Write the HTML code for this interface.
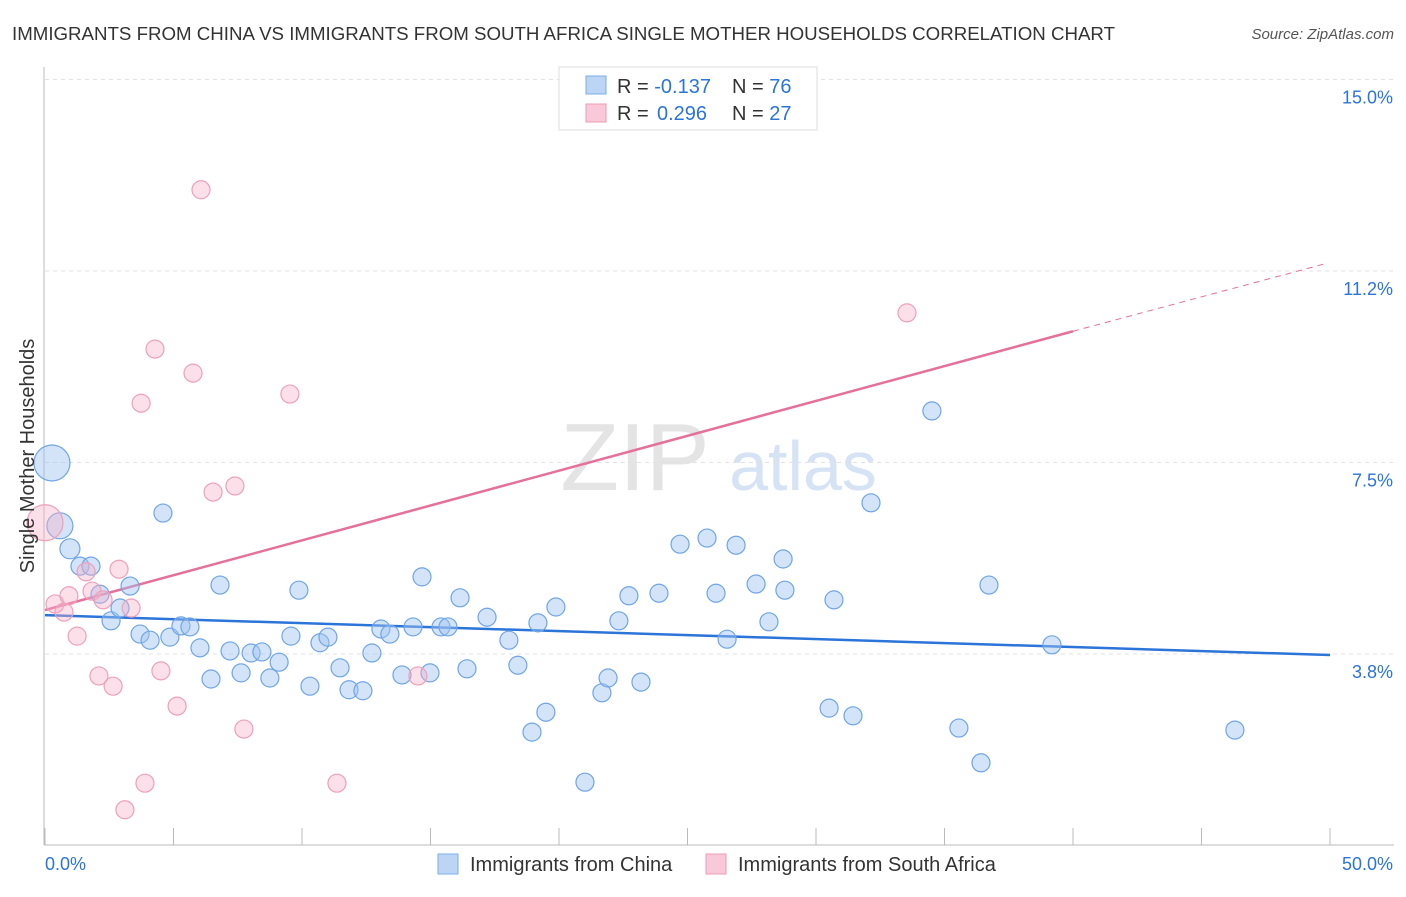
<!DOCTYPE html>
<html><head><meta charset="utf-8">
<style>
body{margin:0;background:#fff;font-family:"Liberation Sans",sans-serif;}
svg text{font-family:"Liberation Sans",sans-serif;}
</style></head>
<body>
<svg id="chart" width="1406" height="892" xmlns="http://www.w3.org/2000/svg">
<text x="12" y="40" font-size="18.7" fill="#333">IMMIGRANTS FROM CHINA VS IMMIGRANTS FROM SOUTH AFRICA SINGLE MOTHER HOUSEHOLDS CORRELATION CHART</text>
<text x="1394" y="39" font-size="15" fill="#555" font-style="italic" text-anchor="end">Source: ZipAtlas.com</text>
<g>
<text x="635" y="490" font-size="96" fill="#e4e4e4" font-family="Liberation Serif" text-anchor="middle">ZIP</text>
<text x="803" y="490" font-size="70" fill="#d5e3f5" text-anchor="middle">atlas</text>
</g>
<g id="grid"></g>
<g id="axes"></g>
<g id="lines"></g>
<g id="points"></g>
<text transform="translate(34,456) rotate(-90)" font-size="20" fill="#333" text-anchor="middle">Single Mother Households</text>
<g>
<rect x="559" y="67" width="258" height="63" fill="#fff" stroke="#ddd"/>
<rect x="586" y="76" width="20" height="18" fill="#bcd5f5" stroke="#7aaee8"/>
<rect x="586" y="104" width="20" height="18" fill="#f9c9d9" stroke="#ee9ab5"/>
<text x="617" y="93" font-size="20" fill="#333">R = <tspan fill="#2b74d8">-0.137</tspan></text>
<text x="732" y="93" font-size="20" fill="#333">N = <tspan fill="#2b74d8">76</tspan></text>
<text x="617" y="120" font-size="20" fill="#333">R = <tspan fill="#2b74d8" x="657">0.296</tspan></text>
<text x="732" y="120" font-size="20" fill="#333">N = <tspan fill="#2b74d8">27</tspan></text>
</g>
<g>
<rect x="438" y="854" width="20" height="20" fill="#bcd5f5" stroke="#7aaee8"/>
<text x="470" y="871" font-size="20" fill="#333">Immigrants from China</text>
<rect x="706" y="854" width="20" height="20" fill="#f9c9d9" stroke="#ee9ab5"/>
<text x="738" y="871" font-size="20" fill="#333">Immigrants from South Africa</text>
</g>
</svg>
<script>
const yTicks=[15.0,11.25,7.5,3.75];
const yTickLabels=["15.0%","11.2%","7.5%","3.8%"];
const xTickLabels=["0.0%","50.0%"];
const chinaX=[0.27,0.58,0.97,1.36,1.79,2.14,2.57,2.92,3.31,3.70,4.09,4.59,4.86,5.29,5.64,6.03,6.46,6.81,7.20,7.63,8.02,8.44,8.75,9.11,9.57,9.88,10.31,10.70,11.01,11.48,11.83,12.37,12.72,13.07,13.42,13.89,14.32,14.67,14.98,15.41,15.68,16.15,16.42,17.20,18.05,18.40,18.95,19.18,19.49,19.88,21.01,21.67,21.91,22.33,22.72,23.19,23.89,24.71,25.76,26.11,26.54,26.89,27.67,28.17,28.72,28.79,30.51,30.70,31.44,32.14,34.51,35.56,36.42,36.73,39.18,46.30];
const chinaY=[7.49,6.26,5.81,5.47,5.47,4.92,4.40,4.65,5.08,4.14,4.02,6.51,4.08,4.30,4.28,3.87,3.26,5.10,3.81,3.38,3.77,3.79,3.28,3.59,4.10,5.00,3.12,3.97,4.08,3.48,3.05,3.03,3.77,4.24,4.14,3.34,4.28,5.26,3.38,4.28,4.28,4.85,3.46,4.47,4.02,3.53,2.22,4.36,2.61,4.67,1.24,2.99,3.28,4.40,4.89,3.20,4.94,5.90,6.02,4.94,4.04,5.88,5.12,4.38,5.61,5.00,2.69,4.81,2.54,6.71,8.51,2.30,1.62,5.10,3.93,2.26];
const chinaR=[18,13,10,9,9,9,9,9,9,9,9,9,9,9,9,9,9,9,9,9,9,9,9,9,9,9,9,9,9,9,9,9,9,9,9,9,9,9,9,9,9,9,9,9,9,9,9,9,9,9,9,9,9,9,9,9,9,9,9,9,9,9,9,9,9,9,9,9,9,9,9,9,9,9,9,9];
const saX=[0.0,0.39,0.74,0.93,1.25,1.60,1.83,2.10,2.26,2.65,2.88,3.11,3.35,3.74,3.89,4.28,4.51,5.14,5.76,6.07,6.54,7.39,7.74,9.53,11.36,14.51,33.54];
const saY=[6.32,4.73,4.57,4.89,4.10,5.36,4.98,3.32,4.81,3.12,5.41,0.70,4.65,8.66,1.22,9.72,3.42,2.73,9.25,12.84,6.92,7.04,2.28,8.84,1.22,3.32,10.43];
const saR=[18,9,9,9,9,9,9,9,9,9,9,9,9,9,9,9,9,9,9,9,9,9,9,9,9,9,9];
const chinaLine=[4.51,3.73];
const saLine=[4.61,10.07,11.39];
const saLineEnds=[0,40,49.8];

const X0=45,X1=1330,Y3=654,PXV=51.07;
const xs=v=>X0+(v/50)*(X1-X0);
const ys=v=>Y3-(v-3.75)*PXV;
const NS="http://www.w3.org/2000/svg";
function mk(tag,parent,attrs){const e=document.createElementNS(NS,tag);for(const k in attrs)e.setAttribute(k,attrs[k]);parent.appendChild(e);return e;}
const grid=document.getElementById('grid'),axes=document.getElementById('axes'),lines=document.getElementById('lines'),pts=document.getElementById('points');
yTicks.forEach((t,i)=>{
 const g=mk('line',grid,{x1:X0,x2:1394,y1:ys(t),y2:ys(t),stroke:'#e2e2e2','stroke-dasharray':'4,4'});
 
 
 const l=mk('text',grid,{x:1393,y:ys(t)+24,'font-size':18,fill:'#2b74d8','text-anchor':'end'});
 l.textContent=yTickLabels[i];
 
 
});
const ax=mk('line',axes,{x1:44,x2:44,y1:67,y2:845,stroke:'#bbb'});


const bx=mk('line',axes,{x1:44,x2:1394,y1:845,y2:845,stroke:'#bbb'});


for(let i=0;i<=10;i++){
 const t=mk('line',axes,{x1:xs(i*5),x2:xs(i*5),y1:828,y2:845,stroke:'#bbb'});
 
 
}
[[xTickLabels[0],45,'start'],[xTickLabels[1],1393,'end']].forEach(a=>{
 const t=mk('text',axes,{x:a[1],y:870,'font-size':18,fill:'#2b74d8','text-anchor':a[2]});
 t.textContent=a[0];
 
 
});
function dots(X,Y,R,fill,stroke,name){
 X.forEach((v,i)=>{
  const c=mk('circle',pts,{cx:xs(v),cy:ys(Y[i]),r:R[i],fill:fill,stroke:stroke,'stroke-width':1.2});
  
  
 });
}
dots(chinaX,chinaY,chinaR,'rgba(160,195,240,0.45)','#6fa5e6','china-point');
dots(saX,saY,saR,'rgba(245,175,200,0.4)','#eea0ba','south-africa-point');
const bl=mk('line',lines,{x1:xs(0),y1:ys(chinaLine[0]),x2:xs(50),y2:ys(chinaLine[1]),stroke:'#2b74d8','stroke-width':2.5});


const pl=mk('line',lines,{x1:xs(saLineEnds[0]),y1:ys(saLine[0]),x2:xs(saLineEnds[1]),y2:ys(saLine[1]),stroke:'#e5709a','stroke-width':2.5});


const pd=mk('line',lines,{x1:xs(saLineEnds[1]),y1:ys(saLine[1]),x2:xs(saLineEnds[2]),y2:ys(saLine[2]),stroke:'#e5709a','stroke-width':1,'stroke-dasharray':'6,5'});


</script>
</body></html>
